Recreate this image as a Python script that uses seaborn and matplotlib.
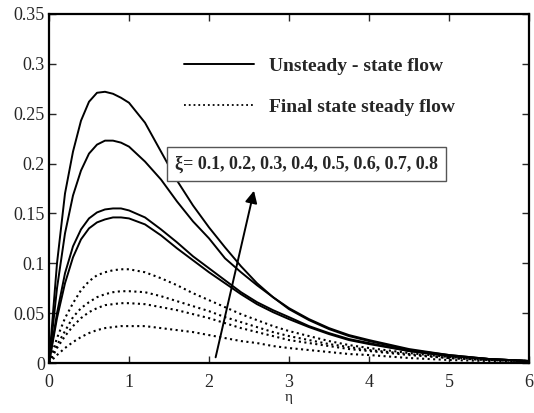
import numpy as np
import pandas as pd
import matplotlib
matplotlib.use("Agg")
import matplotlib.pyplot as plt
import seaborn as sns
from matplotlib.lines import Line2D

eta = [0, 0.1, 0.2, 0.3, 0.4, 0.5, 0.6, 0.7, 0.8, 0.9, 1.0, 1.2, 1.4, 1.6, 1.8,
       2.0, 2.2, 2.4, 2.6, 2.8, 3.0, 3.25, 3.5, 3.75, 4.0, 4.5, 5.0, 5.5, 6.0]

unsteady_1 = [0, 0.100, 0.170, 0.212, 0.243, 0.262, 0.271, 0.272, 0.270, 0.266, 0.261,
              0.241, 0.212, 0.183, 0.158, 0.136, 0.116, 0.097, 0.080, 0.066, 0.055,
              0.044, 0.035, 0.028, 0.023, 0.014, 0.008, 0.004, 0.002]
unsteady_2 = [0, 0.075, 0.130, 0.168, 0.193, 0.210, 0.219, 0.223, 0.223, 0.221, 0.217,
              0.202, 0.184, 0.162, 0.142, 0.125, 0.105, 0.091, 0.078, 0.066, 0.054,
              0.043, 0.034, 0.027, 0.022, 0.013, 0.008, 0.004, 0.002]
unsteady_3 = [0, 0.050, 0.090, 0.117, 0.134, 0.145, 0.151, 0.154, 0.155, 0.155, 0.153,
              0.146, 0.134, 0.121, 0.107, 0.095, 0.083, 0.071, 0.061, 0.053, 0.046,
              0.037, 0.030, 0.024, 0.020, 0.012, 0.007, 0.004, 0.002]
unsteady_4 = [0, 0.045, 0.080, 0.106, 0.124, 0.135, 0.141, 0.144, 0.146, 0.146, 0.145,
              0.139, 0.128, 0.115, 0.103, 0.091, 0.080, 0.069, 0.059, 0.051, 0.044,
              0.036, 0.029, 0.023, 0.019, 0.012, 0.007, 0.004, 0.002]
steady_1 = [0, 0.025, 0.045, 0.060, 0.073, 0.082, 0.088, 0.091, 0.093, 0.094, 0.094,
            0.091, 0.085, 0.078, 0.070, 0.063, 0.056, 0.049, 0.043, 0.037, 0.032,
            0.027, 0.022, 0.018, 0.015, 0.010, 0.006, 0.003, 0.002]
steady_2 = [0, 0.018, 0.032, 0.046, 0.055, 0.061, 0.066, 0.069, 0.071, 0.072, 0.072,
            0.071, 0.067, 0.062, 0.057, 0.052, 0.046, 0.041, 0.036, 0.031, 0.027,
            0.023, 0.019, 0.016, 0.013, 0.009, 0.005, 0.003, 0.002]
steady_3 = [0, 0.015, 0.027, 0.037, 0.045, 0.051, 0.055, 0.058, 0.059, 0.060, 0.060,
            0.059, 0.056, 0.053, 0.049, 0.045, 0.040, 0.035, 0.031, 0.027, 0.023,
            0.020, 0.017, 0.014, 0.012, 0.008, 0.005, 0.003, 0.002]
steady_4 = [0, 0.008, 0.015, 0.021, 0.026, 0.030, 0.033, 0.035, 0.036, 0.037, 0.037,
            0.037, 0.035, 0.033, 0.031, 0.028, 0.025, 0.022, 0.020, 0.017, 0.015,
            0.013, 0.011, 0.009, 0.008, 0.005, 0.003, 0.002, 0.001]

x_ticks = [0, 1, 2, 3, 4, 5, 6]
y_ticks = [0, 0.05, 0.1, 0.15, 0.2, 0.25, 0.3, 0.35]
y_tick_labels = ["0", "0.05", "0.1", "0.15", "0.2", "0.25", "0.3", "0.35"]
legend_labels = ["Unsteady - state flow", "Final state steady flow"]
xi_label = "ξ= 0.1, 0.2, 0.3, 0.4, 0.5, 0.6, 0.7, 0.8"

sns.set_style("ticks")
plt.rcParams["font.family"] = ["Liberation Serif", "DejaVu Serif"]

fig = plt.figure(figsize=(5.34, 4.13), dpi=100)
ax = fig.add_axes([49 / 534, 1 - 363 / 413, 480 / 534, 349 / 413])

series = {
    "u1": (unsteady_1, "-"), "u2": (unsteady_2, "-"),
    "u3": (unsteady_3, "-"), "u4": (unsteady_4, "-"),
    "s1": (steady_1, ":"), "s2": (steady_2, ":"),
    "s3": (steady_3, ":"), "s4": (steady_4, ":"),
}
for name, (vals, ls) in series.items():
    df = pd.DataFrame({"eta": eta, "f": vals})
    sns.lineplot(data=df, x="eta", y="f", ax=ax, color="black",
                 linestyle=ls, linewidth=1.4 if ls == "-" else 1.5,
                 estimator=None, sort=True)

ax.set_xlim(0, 6)
ax.set_ylim(0, 0.35)
ax.set_xticks(x_ticks)
ax.set_xticklabels([str(t) for t in x_ticks])
ax.set_yticks(y_ticks)
ax.set_yticklabels(y_tick_labels)
ax.tick_params(direction="in", top=True, right=True, length=5, width=1.0,
               labelsize=13, pad=3)
ax.tick_params(axis="x", pad=8)
for sp in ax.spines.values():
    sp.set_linewidth(1.6)
    sp.set_color("black")
ax.set_xlabel("η", fontsize=11, labelpad=0)
ax.set_ylabel("")

handles = [Line2D([], [], color="black", linestyle="-", linewidth=1.4),
           Line2D([], [], color="black", linestyle=":", linewidth=1.3)]
leg = ax.legend(handles, legend_labels, loc="upper left",
                bbox_to_anchor=(0.245, 0.925), frameon=False,
                prop={"weight": "bold", "size": 14}, handlelength=3.6,
                handletextpad=0.75, labelspacing=1.2)

ax.annotate("", xy=(2.57, 0.1755), xytext=(2.075, 0.003),
            arrowprops=dict(arrowstyle="-|>", color="black", lw=1.4,
                            mutation_scale=18))
ax.text(0.2625, 0.570, xi_label, transform=ax.transAxes, fontsize=13,
        fontweight="bold", va="center", ha="left",
        bbox=dict(boxstyle="square,pad=0.45", facecolor="white",
                  edgecolor="#555555", linewidth=1.0))

fig.savefig("out.png", dpi=100)
